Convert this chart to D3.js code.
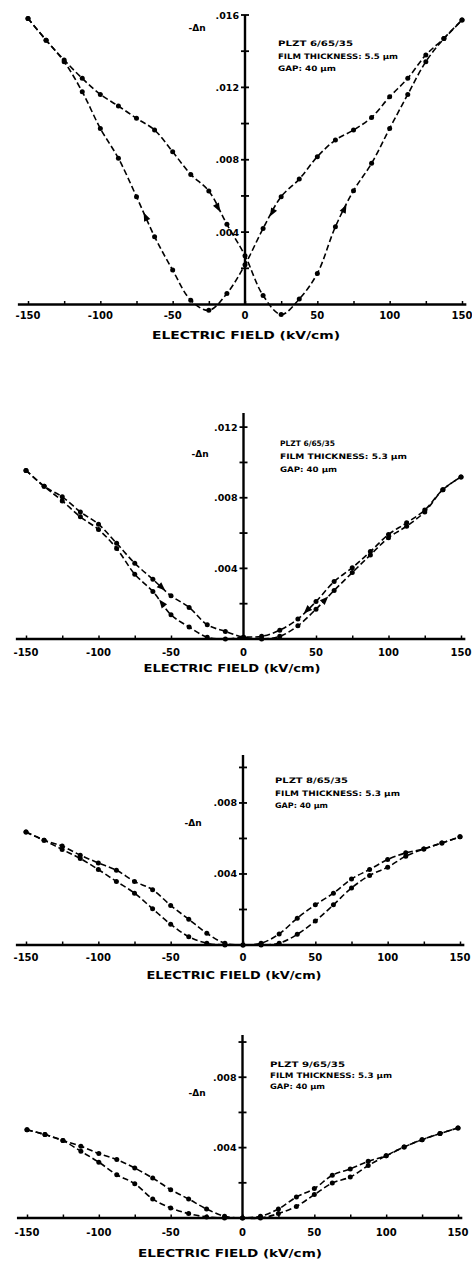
<!DOCTYPE html>
<html>
<head>
<meta charset="utf-8">
<script src="https://cdn.jsdelivr.net/npm/d3@7"></script>
<style>
  body { margin: 0; background: #fff; }
  svg { display: block; }
  text { font-family: "DejaVu Sans", "Liberation Sans", sans-serif; font-weight: bold; fill: #000; }
</style>
</head>
<body>
<svg id="chart" width="472" height="1261"></svg>
<script>
// Field steps (kV/cm) at which -Δn was measured
const field = [-150, -137.5, -125, -112.5, -100, -87.5, -75, -62.5, -50, -37.5, -25, -12.5,
               0, 12.5, 25, 37.5, 50, 62.5, 75, 87.5, 100, 112.5, 125, 137.5, 150];
const xTicks = [-150, -125, -100, -75, -50, -25, 0, 25, 50, 75, 100, 125, 150];
const xLabels = [-150, -100, -50, 0, 50, 100, 150];
const xTitle = "ELECTRIC FIELD (kV/cm)";
const yTitle = "-\u0394n";

// Panel 1: rising-field branch and falling-field branch
const p1Rise = [0.01581, 0.01461, 0.01351, 0.01250, 0.01161, 0.01097, 0.01029, 0.00964, 0.00844, 0.00719, 0.00627, 0.00443,
                0.00270, 0.00050, -0.00055, 0.00030, 0.00172, 0.00430, 0.00629, 0.00780, 0.00973, 0.01161, 0.01342, 0.01470, 0.01572];
const p1Fall = [0.01581, 0.01461, 0.01342, 0.01176, 0.00973, 0.00808, 0.00596, 0.00375, 0.00190, 0.00024, -0.00032, 0.00061,
                0.00220, 0.00420, 0.00596, 0.00693, 0.00817, 0.00909, 0.00964, 0.01034, 0.01148, 0.01250, 0.01379, 0.01470, 0.01572];
const p1YTicks = [0.004, 0.008, 0.012, 0.016];
const p1YLabels = [".004", ".008", ".012", ".016"];
const p1YMinor = [0.002, 0.006, 0.010, 0.014];
const p1Note = ["PLZT 6/65/35", "FILM THICKNESS: 5.5 \u00b5m", "GAP: 40 \u00b5m"];
const p1Arrows = [{ s: "rise", i: 10 }, { s: "rise", i: 17 }, { s: "fall", i: 13 }, { s: "fall", i: 6 }];

// Panel 2
const p2Rise = [0.00955, 0.00865, 0.00805, 0.00720, 0.00650, 0.00542, 0.00429, 0.00338, 0.00245, 0.00179, 0.00081, 0.00043,
                0.00010, 0.00000, 0.00015, 0.00075, 0.00169, 0.00275, 0.00376, 0.00476, 0.00574, 0.00639, 0.00720, 0.00846, 0.00918];
const p2Fall = [0.00955, 0.00865, 0.00782, 0.00692, 0.00620, 0.00513, 0.00367, 0.00269, 0.00137, 0.00068, 0.00010, 0.00000,
                0.00010, 0.00015, 0.00050, 0.00113, 0.00212, 0.00325, 0.00404, 0.00495, 0.00592, 0.00658, 0.00730, 0.00846, 0.00918];
const p2YTicks = [0.004, 0.008, 0.012];
const p2YLabels = [".004", ".008", ".012"];
const p2YMinor = [0.002, 0.006, 0.010];
const p2Note = ["PLZT 6/65/35", "FILM THICKNESS: 5.3 \u00b5m", "GAP: 40 \u00b5m"];
const p2Arrows = [{ s: "rise", i: 7 }, { s: "fall", i: 7 }, { s: "fall", i: 15 }, { s: "rise", i: 16 }];

// Panel 3
const p3Rise = [0.00636, 0.00590, 0.00557, 0.00506, 0.00462, 0.00421, 0.00358, 0.00311, 0.00223, 0.00145, 0.00066, 0.00010,
                0.00000, 0.00000, 0.00010, 0.00060, 0.00135, 0.00226, 0.00321, 0.00392, 0.00438, 0.00500, 0.00541, 0.00575, 0.00609];
const p3Fall = [0.00636, 0.00590, 0.00538, 0.00487, 0.00425, 0.00358, 0.00292, 0.00204, 0.00117, 0.00047, 0.00010, 0.00000,
                0.00000, 0.00010, 0.00062, 0.00151, 0.00226, 0.00292, 0.00372, 0.00425, 0.00481, 0.00519, 0.00541, 0.00575, 0.00609];
const p3YTicks = [0.004, 0.008];
const p3YLabels = [".004", ".008"];
const p3YMinor = [0.002, 0.006, 0.010];
const p3Note = ["PLZT 8/65/35", "FILM THICKNESS: 5.3 \u00b5m", "GAP: 40 \u00b5m"];
const p3Arrows = [];

// Panel 4
const p4Rise = [0.00502, 0.00474, 0.00440, 0.00408, 0.00366, 0.00332, 0.00284, 0.00227, 0.00161, 0.00108, 0.00051, 0.00010,
                0.00000, 0.00000, 0.00025, 0.00066, 0.00133, 0.00199, 0.00233, 0.00298, 0.00354, 0.00404, 0.00445, 0.00480, 0.00512];
const p4Fall = [0.00502, 0.00474, 0.00440, 0.00379, 0.00317, 0.00246, 0.00195, 0.00108, 0.00057, 0.00025, 0.00006, 0.00000,
                0.00000, 0.00010, 0.00051, 0.00119, 0.00167, 0.00243, 0.00279, 0.00322, 0.00354, 0.00404, 0.00445, 0.00480, 0.00512];
const p4YTicks = [0.004, 0.008];
const p4YLabels = [".004", ".008"];
const p4YMinor = [0.002, 0.006, 0.010];
const p4Note = ["PLZT 9/65/35", "FILM THICKNESS: 5.3 \u00b5m", "GAP: 40 \u00b5m"];
const p4Arrows = [];

const panels = [
  { rise: p1Rise, fall: p1Fall, yMax: 0.016, yTicks: p1YTicks, yLabels: p1YLabels, yMinor: p1YMinor, note: p1Note, arrows: p1Arrows },
  { rise: p2Rise, fall: p2Fall, yMax: 0.0128, yTicks: p2YTicks, yLabels: p2YLabels, yMinor: p2YMinor, note: p2Note, arrows: p2Arrows },
  { rise: p3Rise, fall: p3Fall, yMax: 0.0107, yTicks: p3YTicks, yLabels: p3YLabels, yMinor: p3YMinor, note: p3Note, arrows: p3Arrows },
  { rise: p4Rise, fall: p4Fall, yMax: 0.0104, yTicks: p4YTicks, yLabels: p4YLabels, yMinor: p4YMinor, note: p4Note, arrows: p4Arrows }
];

// Placement of each panel on the page
const layout = [
  { base: 304.5, top: 15,   xr: [28, 462], tickY: 315,  titleY: 335,  titleX: 246, titleW: 188,
    dn: [197, 28],   noteX: 278, noteY: [43, 56, 68],        noteW: [75, 120, 58] },
  { base: 639,   top: 413,  xr: [26, 461], tickY: 652,  titleY: 668,  titleX: 232, titleW: 177,
    dn: [200, 454],  noteX: 280, noteY: [443, 456, 469],     noteW: [55, 127, 57] },
  { base: 945,   top: 755,  xr: [26, 460], tickY: 957,  titleY: 975,  titleX: 234, titleW: 175,
    dn: [193, 823],  noteX: 275, noteY: [780, 793, 805],     noteW: [73, 125, 53] },
  { base: 1218,  top: 1035, xr: [27, 458], tickY: 1232, titleY: 1253, titleX: 230, titleW: 184,
    dn: [197, 1093], noteX: 270, noteY: [1064, 1075, 1086],  noteW: [75, 122, 55] }
];

const svg = d3.select("#chart");

panels.forEach((p, k) => {
  const L = layout[k];
  const g = svg.append("g");

  const x = d3.scaleLinear().domain([-150, 150]).range(L.xr);
  const y = d3.scaleLinear().domain([0, p.yMax]).range([L.base, L.top]);

  // x axis: baseline with small upward ticks every 25 kV/cm
  g.append("line")
    .attr("x1", x(-157)).attr("x2", x(153))
    .attr("y1", y(0)).attr("y2", y(0))
    .attr("stroke", "#000").attr("stroke-width", 2.4);

  const xAxis = d3.axisBottom(x).tickValues(xTicks).tickSize(-3.5).tickFormat("");
  const gx = g.append("g").attr("transform", `translate(0,${y(0)})`).call(xAxis);
  gx.select(".domain").remove();
  gx.selectAll(".tick line").attr("stroke", "#000").attr("stroke-width", 1.5);

  g.selectAll(".xlab").data(xLabels).join("text")
    .attr("class", "xlab")
    .attr("x", d => x(d)).attr("y", L.tickY)
    .attr("text-anchor", "middle").attr("dominant-baseline", "central")
    .attr("font-size", 10)
    .text(d => String(d));

  g.append("text")
    .attr("x", L.titleX).attr("y", L.titleY)
    .attr("text-anchor", "middle").attr("dominant-baseline", "central")
    .attr("font-size", 10)
    .attr("textLength", L.titleW).attr("lengthAdjust", "spacingAndGlyphs")
    .text(xTitle);

  // y axis through zero field, with cross-shaped ticks
  g.append("line")
    .attr("x1", x(0)).attr("x2", x(0))
    .attr("y1", y(0)).attr("y2", y(p.yMax))
    .attr("stroke", "#000").attr("stroke-width", 2.4);

  const crossTicks = p.yTicks.concat(p.yMinor);
  g.selectAll(".ytick").data(crossTicks).join("line")
    .attr("class", "ytick")
    .attr("x1", x(0) - 4).attr("x2", x(0) + 4)
    .attr("y1", d => y(d)).attr("y2", d => y(d))
    .attr("stroke", "#000").attr("stroke-width", 1.8);

  g.selectAll(".ylab").data(p.yTicks).join("text")
    .attr("class", "ylab")
    .attr("x", x(0) - 6).attr("y", d => y(d))
    .attr("text-anchor", "end").attr("dominant-baseline", "central")
    .attr("font-size", 9.5)
    .text((d, i) => p.yLabels[i]);

  g.append("text")
    .attr("x", L.dn[0]).attr("y", L.dn[1])
    .attr("text-anchor", "middle").attr("dominant-baseline", "central")
    .attr("font-size", 9)
    .text(yTitle);

  // sample note
  g.selectAll(".note").data(p.note).join("text")
    .attr("class", "note")
    .attr("x", L.noteX).attr("y", (d, i) => L.noteY[i])
    .attr("dominant-baseline", "central")
    .attr("font-size", 7.5)
    .attr("textLength", (d, i) => L.noteW[i]).attr("lengthAdjust", "spacingAndGlyphs")
    .text(d => d);

  // dashed branches with measured points
  const line = d3.line()
    .x((d, i) => x(field[i]))
    .y(d => y(d))
    .curve(d3.curveCatmullRom.alpha(0.5));

  [p.rise, p.fall].forEach(series => {
    g.append("path")
      .datum(series)
      .attr("d", line)
      .attr("fill", "none")
      .attr("stroke", "#000")
      .attr("stroke-width", 1.6)
      .attr("stroke-dasharray", "6,3");

    g.selectAll(null).data(series).join("circle")
      .attr("cx", (d, i) => x(field[i]))
      .attr("cy", d => y(d))
      .attr("r", 2.5)
      .attr("fill", "#000");
  });

  // direction arrows along each branch
  p.arrows.forEach(a => {
    const s = a.s === "rise" ? p.rise : p.fall;
    const from = a.s === "rise" ? a.i : a.i + 1;
    const to = a.s === "rise" ? a.i + 1 : a.i;
    const x0 = x(field[from]), y0 = y(s[from]);
    const x1 = x(field[to]), y1 = y(s[to]);
    const mx = (x0 + x1) / 2, my = (y0 + y1) / 2;
    const ang = Math.atan2(y1 - y0, x1 - x0) * 180 / Math.PI;
    g.append("path")
      .attr("d", "M4.5,0 L-4,-3.4 L-4,3.4 Z")
      .attr("transform", `translate(${mx},${my}) rotate(${ang})`)
      .attr("fill", "#000");
  });
});
</script>
</body>
</html>
